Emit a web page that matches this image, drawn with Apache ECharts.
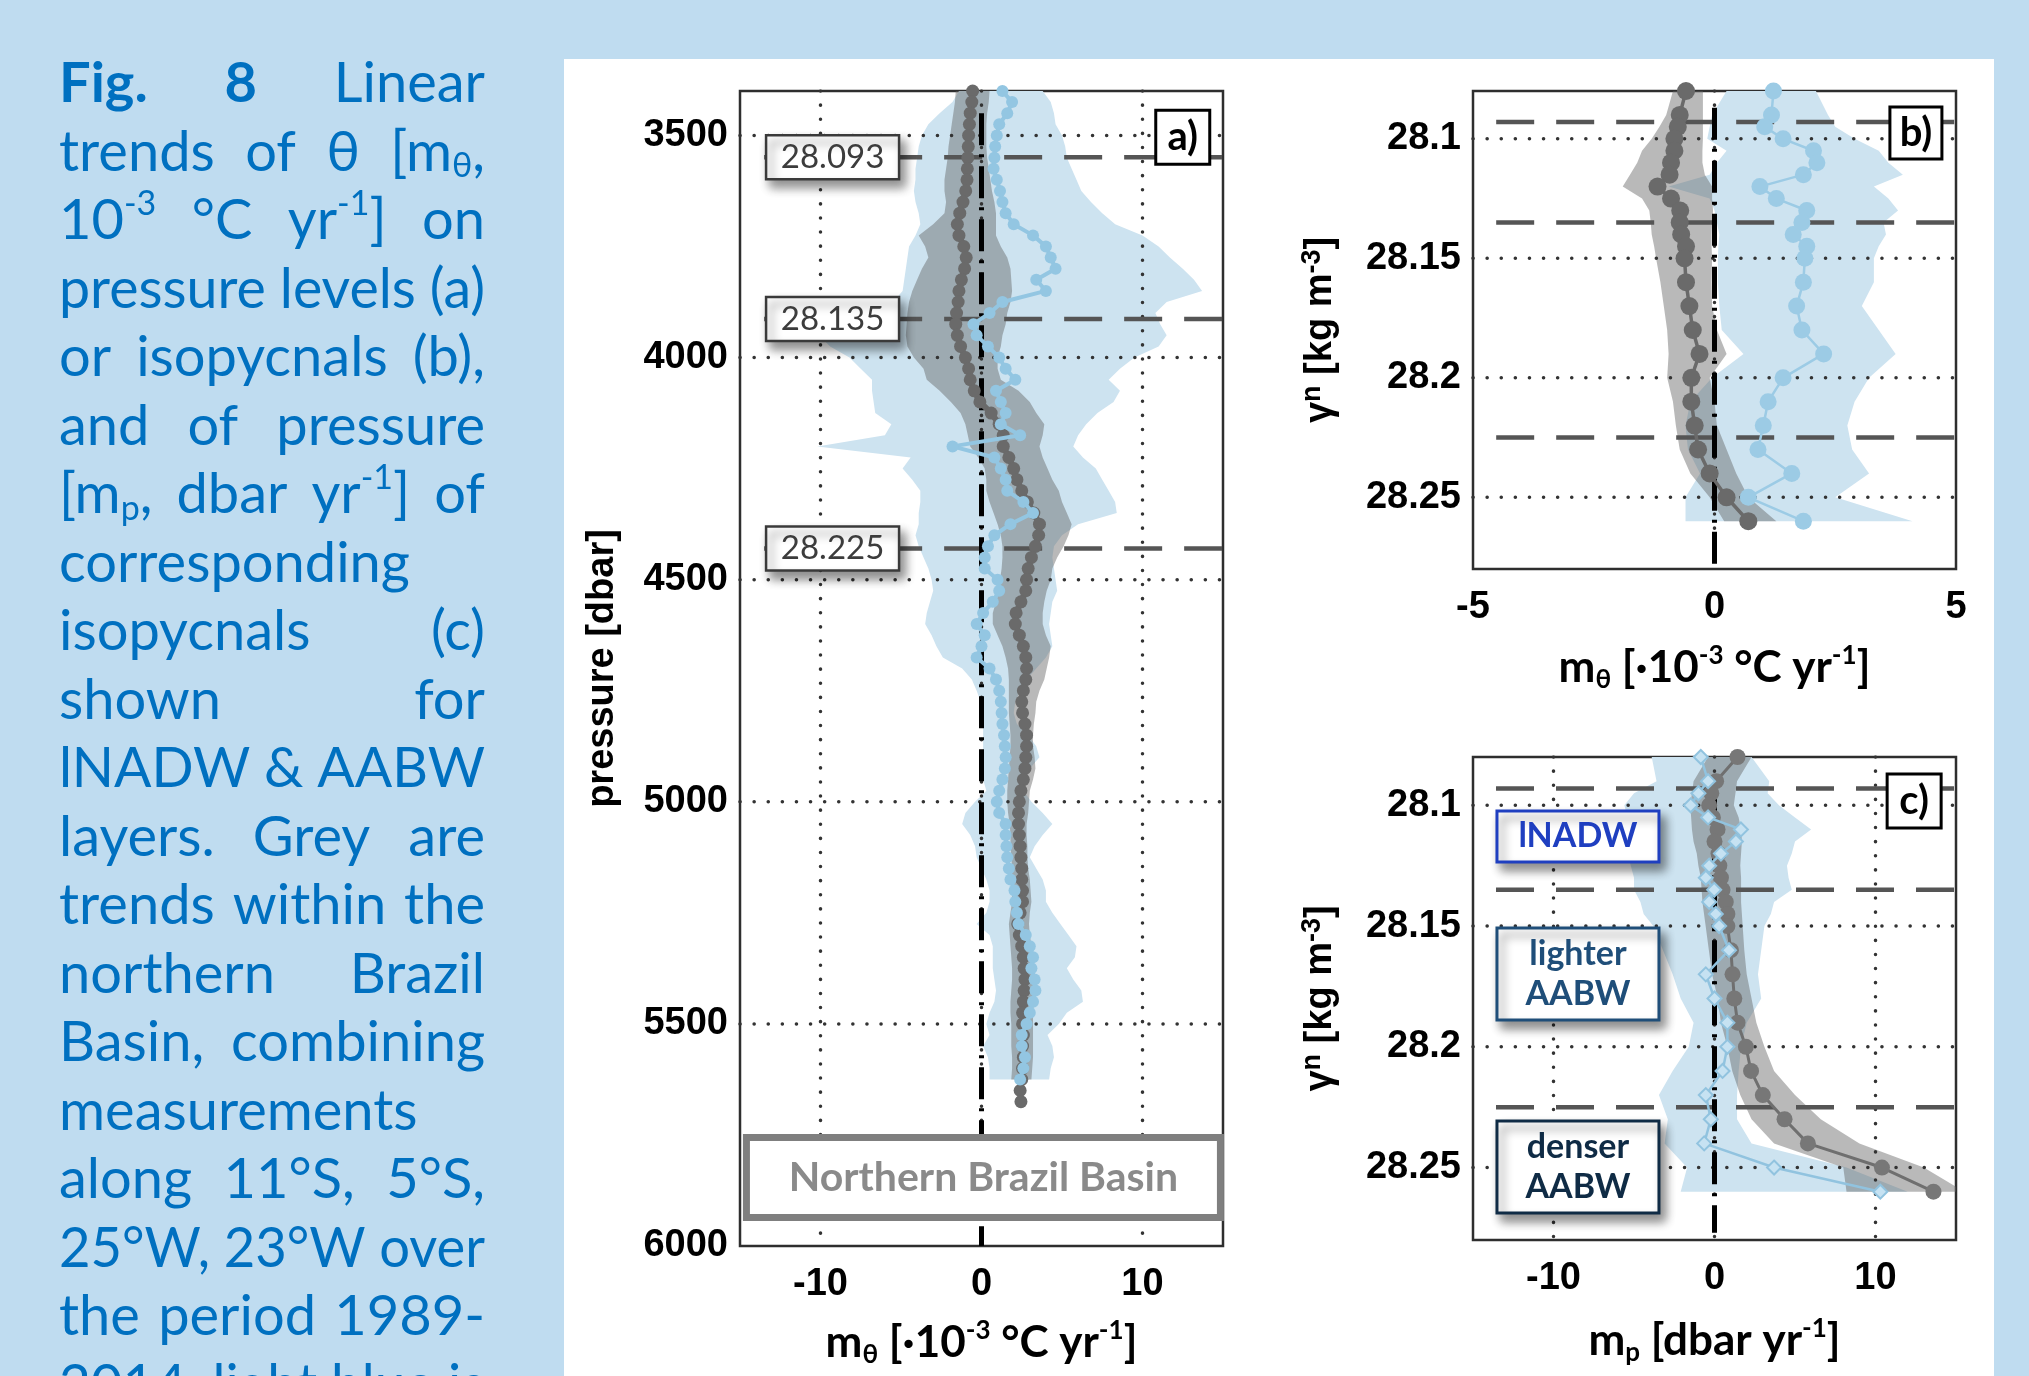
<!DOCTYPE html>
<html><head><meta charset="utf-8">
<script src="https://cdn.jsdelivr.net/npm/echarts@6.0.0/dist/echarts.min.js"></script>
<style>html,body{margin:0;padding:0;background:#bfdcf0;}#c{width:2029px;height:1376px;}</style>
</head><body><div id="c"></div>
<script>
// ---------------- DATA ----------------
// Panel a: pressure levels [dbar]
const pressA = [3400,3425,3450,3475,3500,3525,3550,3575,3600,3625,3650,3675,3700,3725,3750,3775,3800,3825,3850,3875,3900,3925,3950,3975,4000,4025,4050,4075,4100,4125,4150,4175,4200,4225,4250,4275,4300,4325,4350,4375,4400,4425,4450,4475,4500,4525,4550,4575,4600,4625,4650,4675,4700,4725,4750,4775,4800,4825,4850,4875,4900,4925,4950,4975,5000,5025,5050,5075,5100,5125,5150,5175,5200,5225,5250,5275,5300,5325,5350,5375,5400,5425,5450,5475,5500,5525,5550,5575,5600,5625,5650,5675];
const greyA = [-0.55,-0.6,-0.7,-0.75,-0.8,-0.82,-0.85,-0.88,-0.9,-0.98,
-1.15,-1.35,-1.5,-1.4,-1.1,-0.95,-1.05,-1.25,-1.4,-1.45,
-1.55,-1.6,-1.5,-1.3,-1.0,-0.8,-0.7,-0.45,-0.1,0.6,
1.1,1.35,1.35,1.7,2.0,2.2,2.5,2.85,3.25,3.6,
3.55,3.35,3.1,2.9,2.8,2.75,2.45,2.15,2.1,2.35,
2.6,2.75,2.8,2.75,2.6,2.5,2.55,2.7,2.8,2.8,
2.75,2.7,2.6,2.45,2.35,2.3,2.3,2.35,2.4,2.45,
2.5,2.5,2.55,2.55,2.4,2.25,2.35,2.5,2.6,2.65,
2.7,2.65,2.6,2.55,2.55,2.6,2.55,2.6,2.55,2.5,
2.4,2.45];
const greyLoA = [-1.6,-1.65,-1.75,-1.85,-1.95,-2.05,-2.1,-2.2,-2.3,-2.3,
-2.2,-2.3,-3.0,-3.9,-3.5,-3.3,-3.7,-4.0,-4.3,-4.5,
-4.6,-4.65,-4.7,-4.6,-4.2,-3.6,-3.4,-2.6,-1.9,-1.3,
-1.0,-0.85,-0.7,-0.2,0.2,0.3,0.3,0.5,0.75,1.0,
1.2,1.3,1.3,1.25,1.15,1.1,0.9,0.7,0.7,1.0,
1.3,1.5,1.65,1.7,1.7,1.7,1.7,1.75,1.8,1.8,
1.75,1.7,1.65,1.6,1.6,1.65,1.75,1.8,1.8,1.85,
1.9,1.9,1.9,1.9,1.8,1.7,1.75,1.8,1.85,1.9,
1.9,1.85,1.8,1.8,1.85,1.85,1.85,1.9,1.9,1.85];
const greyHiA = [0.5,0.45,0.35,0.3,0.3,0.3,0.35,0.45,0.55,0.65,
0.8,0.9,0.9,0.9,1.2,1.6,1.8,1.85,1.9,1.8,
1.6,1.5,1.3,1.2,1.0,1.0,1.2,2.3,3.0,3.4,
3.9,3.8,3.6,3.8,4.1,4.4,4.8,5.0,5.3,5.6,
5.4,5.1,4.7,4.4,4.3,4.05,3.9,3.8,3.8,4.0,
4.3,4.2,4.05,3.9,3.6,3.4,3.35,3.25,3.2,3.2,
3.3,3.35,3.2,3.0,2.95,2.9,2.8,2.8,2.85,2.85,
2.9,3.0,3.05,3.1,3.0,2.95,3.0,3.1,3.2,3.25,
3.3,3.3,3.25,3.2,3.2,3.2,3.2,3.2,3.15,3.1];
const blueA = [1.3,1.9,1.6,1.1,0.95,0.85,0.8,0.75,0.95,1.15,
1.3,1.5,2.0,3.2,4.0,4.3,4.6,3.4,4.0,1.3,
0.5,-0.5,-0.3,0.4,1.1,1.5,2.1,0.9,1.2,1.5,
1.2,2.4,-1.8,0.8,1.2,1.5,1.6,2.6,3.2,1.8,
0.8,0.4,0.2,0.2,1.0,1.1,0.7,0.1,-0.3,0.2,
0.0,-0.3,0.5,0.9,1.1,1.2,1.25,1.3,1.4,1.45,
1.5,1.45,1.3,1.1,0.95,1.1,1.5,1.5,1.55,1.6,
1.7,1.8,2.05,2.1,2.2,2.3,2.75,3.0,3.2,3.1,
3.3,3.35,3.2,3.0,2.8,2.5,2.5,2.7,2.6,2.4];
const blueLoA = [-1.4,-1.8,-2.6,-3.3,-3.7,-3.9,-4.0,-4.1,-4.1,-4.2,
-4.1,-3.9,-3.8,-4.1,-4.5,-4.6,-4.7,-4.8,-4.9,-5.5,
-7.5,-9.5,-10.1,-9.4,-8.2,-7.5,-6.8,-6.8,-6.7,-6.6,
-5.6,-6.0,-10.2,-4.4,-4.9,-4.3,-3.8,-3.8,-3.9,-3.9,
-4.1,-3.9,-3.6,-3.3,-3.1,-3.0,-3.2,-3.4,-3.5,-3.1,
-2.8,-2.4,-1.2,-0.6,-0.3,-0.05,0.0,0.1,0.1,0.1,
0.1,-0.05,0.1,0.3,-0.4,-1.0,-1.2,-0.7,-0.4,-0.3,
0.0,0.3,0.5,0.5,0.3,-0.3,0.5,0.7,0.7,0.7,
0.8,0.9,0.8,0.5,0.3,0.5,0.1,0.4,0.5,0.5];
const blueHiA = [3.8,4.3,4.5,4.6,5.0,5.2,5.3,5.6,5.9,6.2,
6.8,7.5,8.3,10.0,11.0,11.7,12.5,13.2,13.7,11.5,
10.8,11.1,11.5,11.0,9.5,8.6,7.9,8.6,8.2,7.2,
6.5,6.0,5.7,6.3,7.1,7.5,7.9,8.3,8.4,6.0,
5.0,4.5,4.4,4.5,4.6,4.7,4.4,4.3,4.2,4.3,
4.4,4.0,3.4,2.8,2.4,2.1,2.0,2.2,2.9,3.4,
3.6,3.0,2.7,2.6,3.1,3.8,4.4,3.8,3.3,3.0,
3.4,3.8,4.0,4.0,4.4,4.9,5.4,5.9,5.8,5.3,
5.7,6.2,6.3,5.3,4.8,4.1,4.4,4.5,4.3,4.2];

// Panels b, c: neutral density levels
const gammaLevels = [28.08,28.09,28.095,28.10,28.105,28.11,28.115,28.12,28.125,28.13,28.135,28.14,28.145,28.15,28.16,28.17,28.18,28.19,28.20,28.21,28.22,28.23,28.24,28.25,28.26];
const greyB   = [-0.59,-0.72,-0.76,-0.83,-0.83,-0.9,-0.93,-1.18,-0.9,-0.71,-0.72,-0.69,-0.59,-0.62,-0.59,-0.52,-0.45,-0.31,-0.48,-0.48,-0.41,-0.34,-0.1,0.25,0.7];
const greyLoB = [-0.86,-1.0,-1.14,-1.3,-1.5,-1.6,-1.75,-1.9,-1.5,-1.35,-1.32,-1.3,-1.25,-1.21,-1.12,-1.05,-0.98,-0.95,-0.98,-0.86,-0.8,-0.72,-0.5,-0.1,0.2];
const greyHiB = [-0.24,-0.24,-0.24,-0.24,-0.25,-0.25,-0.2,-0.05,-0.05,-0.03,-0.05,-0.06,-0.06,-0.05,-0.06,-0.05,0.05,0.25,-0.1,0.0,0.05,0.25,0.45,0.7,1.28];
const blueB   = [1.22,1.18,1.04,1.42,2.05,2.12,1.84,0.94,1.28,1.91,1.81,1.63,1.91,1.87,1.84,1.70,1.81,2.26,1.42,1.11,1.01,0.9,1.6,0.7,1.84];
const blueLoB = [0.25,-0.05,-0.1,-0.15,0.25,0.05,-0.1,-0.95,-0.1,0.0,0.05,0.1,0.08,0.07,0.07,0.1,0.15,0.6,-0.05,-0.5,-0.6,-0.55,-0.3,-0.6,-0.6];
const blueHiB = [2.1,2.35,2.5,2.9,3.4,3.6,3.9,3.3,3.6,3.8,3.5,3.55,3.4,3.3,3.3,3.05,3.4,3.75,3.2,2.9,2.75,2.85,3.2,2.5,4.1];
const greyC   = [1.43,0.1,-0.2,-0.33,-0.1,0.19,0.0,0.25,0.3,0.4,0.5,0.7,0.8,0.8,1.02,1.12,1.23,1.43,1.95,2.27,3.0,4.35,5.8,10.4,13.6];
const greyLoC = [-0.4,-1.3,-1.4,-1.5,-1.45,-1.4,-1.3,-1.1,-1.0,-0.85,-0.8,-0.75,-0.65,-0.55,-0.35,-0.15,0.2,0.4,0.8,1.1,1.6,2.3,3.7,8.0,8.2];
const greyHiC = [2.3,1.4,1.3,1.2,1.5,1.65,1.7,1.65,1.6,1.65,1.65,1.65,1.7,1.75,1.85,2.0,2.3,2.6,3.1,3.7,5.0,6.6,9.0,13.0,15.5];
const blueC   = [-0.85,-0.4,-1.0,-1.48,-0.4,1.64,1.33,0.4,-0.33,-0.54,-0.02,-0.33,0.08,0.29,0.9,-0.54,0.0,0.8,0.8,0.5,-0.54,-0.23,-0.64,3.7,10.3];
const blueLoC = [-3.9,-3.6,-5.0,-5.6,-5.4,-5.4,-5.4,-5.4,-5.2,-5.0,-5.0,-4.6,-4.4,-3.8,-3.2,-2.6,-2.1,-1.3,-1.6,-2.6,-3.45,-2.9,-3.1,-1.7,-2.1];
const blueHiC = [2.3,3.4,3.3,4.0,5.0,6.0,5.0,4.8,4.5,4.6,4.8,3.7,3.5,3.1,2.9,2.7,2.9,2.0,1.65,1.5,1.4,1.4,2.3,8.2,12.0];

// Isopycnal boundaries
const isoGamma  = [28.093, 28.135, 28.225];
const isoPressA = [3549, 3913, 4430];
const isoLabels = ['28.093', '28.135', '28.225'];

// Tick labels / grid positions
const xTicksA = [-10, 0, 10];
const yTicksA = [3500, 4000, 4500, 5000, 5500];
const xTicksB = [-5, 0, 5];
const yTicksBC = [28.1, 28.15, 28.2, 28.25];
const xTicksC = [-10, 0, 10];

// Axis extents
const A_X = [-15, 15], A_Y = [3400, 6000];
const B_X = [-5, 5],  BC_Y = [28.08, 28.28];
const C_X = [-15, 15];

// Caption text
const captionLines = [
 ['{*Fig.}','{*8}','Linear'],
 ['trends','of','θ','[m{_θ},'],
 ['10{^-3}','°C','yr{^-1}]','on'],
 ['pressure','levels','(a)'],
 ['or','isopycnals','(b),'],
 ['and','of','pressure'],
 ['[m{_p},','dbar','yr{^-1}]','of'],
 ['corresponding'],
 ['isopycnals','(c)'],
 ['shown','for'],
 ['lNADW','&','AABW'],
 ['layers.','Grey','are'],
 ['trends','within','the'],
 ['northern','Brazil'],
 ['Basin,','combining'],
 ['measurements'],
 ['along','11°S,','5°S,'],
 ['25°W,','23°W','over'],
 ['the','period','1989-'],
 ['2014,','light','blue','is']
];

// ---------------- STYLES ----------------
const BLUE_BAND = '#cde3f0';
const GREY_BAND = 'rgba(100,100,100,0.45)';
const DOT = {color:'#333333', width:3.5, type:[0.1, 14], cap:'round'};
const DASH = {color:'#555555', width:4.5, type:[38, 22]};
const DASHDOT = {color:'#000000', width:5, type:[32, 9, 3, 9]};
const LBL_FONT = '"Liberation Sans", Arial, sans-serif';
const CAP_FONT = 'Lato, "Open Sans", sans-serif';

function band(xi, yi, ys, lo, hi, color, z){
  return {type:'custom', xAxisIndex:xi, yAxisIndex:yi, z:z, silent:true, clip:true,
    data: lo.map((v,i)=>[v, ys[i]]), encode:{x:0,y:1},
    renderItem:function(params, api){
      if(params.dataIndex!==0) return null;
      const pts=[];
      for(let i=0;i<lo.length;i++) pts.push(api.coord([lo[i], ys[i]]));
      for(let i=hi.length-1;i>=0;i--) pts.push(api.coord([hi[i], ys[i]]));
      return {type:'polygon', shape:{points:pts}, style:{fill:color}};
    }};
}
function ref(xi, yi, pts, style, z){
  return {type:'line', xAxisIndex:xi, yAxisIndex:yi, z:z, silent:true, symbol:'none',
    data:pts, lineStyle:style, animation:false};
}
function lineS(xi, yi, vals, ys, o, z){
  return {type:'line', xAxisIndex:xi, yAxisIndex:yi, z:z, silent:true, clip:false,
    data: vals.map((v,i)=>[v, ys[i]]), symbol:o.symbol||'circle', symbolSize:o.size,
    lineStyle:{color:o.line, width:o.lw}, itemStyle:{color:o.fill, borderColor:o.border||o.fill, borderWidth:o.bw||0}, animation:false};
}
function boxes(xi, yi, items, z){
  return {type:'custom', xAxisIndex:xi, yAxisIndex:yi, z:z, silent:true,
    data: items.map(it=>[it.x, it.y]), encode:{x:0,y:1},
    renderItem:function(params, api){
      const it = items[params.dataIndex];
      const c = api.coord([api.value(0), api.value(1)]);
      const rect = {type:'rect', shape:{x:c[0]-it.w/2, y:c[1]-it.h/2, width:it.w, height:it.h},
        style:{fill:'#ffffff', stroke:it.border, lineWidth:it.bw}};
      if(it.shadow){ rect.style.shadowBlur=10; rect.style.shadowColor='rgba(0,0,0,0.45)'; rect.style.shadowOffsetX=5; rect.style.shadowOffsetY=7; }
      return {type:'group', children:[rect,
        {type:'text', style:{text:it.text, x:c[0], y:c[1]+(it.dy||0), align:'center', verticalAlign:'middle',
          fontSize:it.fs, fontWeight:it.fw, fontFamily:it.ff||CAP_FONT, fill:it.color, lineHeight:it.lh||it.fs*1.2}}]};
    }};
}

// ---------------- SERIES ----------------
const S = [];
const pBand = pressA.slice(0, blueLoA.length);
// Panel a
S.push(band(0,0,pBand,blueLoA,blueHiA,BLUE_BAND,1));
S.push(band(0,0,pBand,greyLoA,greyHiA,GREY_BAND,2));
xTicksA.forEach(v=>S.push(ref(0,0,[[v,A_Y[0]],[v,A_Y[1]]],DOT,3)));
yTicksA.forEach(v=>S.push(ref(0,0,[[A_X[0],v],[A_X[1],v]],DOT,3)));
isoPressA.forEach(p=>S.push(ref(0,0,[[-13.5,p],[A_X[1],p]],DASH,4)));
S.push(ref(0,0,[[0,3450],[0,A_Y[1]]],DASHDOT,4));
S.push(lineS(0,0,greyA,pressA,{size:13,line:'#6a6a6a',lw:6,fill:'#6a6a6a'},5));
S.push(lineS(0,0,blueA,pBand,{size:12,line:'#93c6e2',lw:4,fill:'#93c6e2'},6));
S.push(boxes(0,0,[
  {x:-9.25,y:isoPressA[0],w:133,h:44,text:isoLabels[0],fs:33,fw:'normal',color:'#3c3c3c',border:'#3a3a3a',bw:2.5,shadow:true},
  {x:-9.25,y:isoPressA[1],w:133,h:44,text:isoLabels[1],fs:33,fw:'normal',color:'#3c3c3c',border:'#3a3a3a',bw:2.5,shadow:true},
  {x:-9.25,y:isoPressA[2],w:133,h:44,text:isoLabels[2],fs:33,fw:'normal',color:'#3c3c3c',border:'#3a3a3a',bw:2.5,shadow:true},
  {x:0.12,y:5846,w:474,h:80,text:'Northern Brazil Basin',fs:41,fw:'bold',color:'#8a8a8a',border:'#7f7f7f',bw:7},
  {x:12.5,y:3504,w:54,h:54,text:'a)',fs:40,fw:'bold',color:'#000',border:'#000',bw:3}
],10));
// Panel b
S.push(band(1,1,gammaLevels,blueLoB,blueHiB,BLUE_BAND,1));
S.push(band(1,1,gammaLevels,greyLoB,greyHiB,GREY_BAND,2));
[0].forEach(v=>S.push(ref(1,1,[[v,BC_Y[0]],[v,BC_Y[1]]],DOT,3)));
yTicksBC.forEach(v=>S.push(ref(1,1,[[B_X[0],v],[B_X[1],v]],DOT,3)));
isoGamma.forEach(g=>S.push(ref(1,1,[[-4.52,g],[B_X[1],g]],DASH,4)));
S.push(ref(1,1,[[0,28.087],[0,BC_Y[1]]],DASHDOT,4));
S.push(lineS(1,1,greyB,gammaLevels,{size:18,line:'#6a6a6a',lw:3.5,fill:'#6a6a6a'},5));
S.push(lineS(1,1,blueB,gammaLevels,{size:17,line:'#9ccbe5',lw:2.5,fill:'#9ccbe5'},6));
S.push(boxes(1,1,[
  {x:4.17,y:28.0976,w:52,h:52,text:'b)',fs:40,fw:'bold',color:'#000',border:'#000',bw:3}
],10));
// Panel c
S.push(band(2,2,gammaLevels,blueLoC,blueHiC,BLUE_BAND,1));
S.push(band(2,2,gammaLevels,greyLoC,greyHiC,GREY_BAND,2));
xTicksC.forEach(v=>S.push(ref(2,2,[[v,BC_Y[0]],[v,BC_Y[1]]],DOT,3)));
yTicksBC.forEach(v=>S.push(ref(2,2,[[C_X[0],v],[C_X[1],v]],DOT,3)));
isoGamma.forEach(g=>S.push(ref(2,2,[[-13.57,g],[C_X[1],g]],DASH,4)));
S.push(ref(2,2,[[0,28.09],[0,28.277]],DASHDOT,4));
S.push(lineS(2,2,greyC,gammaLevels,{size:16,line:'#6f6f6f',lw:3,fill:'#777777'},5));
S.push(lineS(2,2,blueC,gammaLevels,{symbol:'diamond',size:14,line:'#91c3df',lw:2.5,fill:'#c6e2f2',border:'#91c3df',bw:2},6));
S.push(boxes(2,2,[
  {x:12.4,y:28.0982,w:54,h:54,text:'c)',fs:40,fw:'bold',color:'#000',border:'#000',bw:3},
  {x:-8.48,y:28.1129,w:162,h:51,text:'lNADW',fs:34,fw:'bold',color:'#1f3fc0',border:'#1f3fc0',bw:3,shadow:true},
  {x:-8.48,y:28.1699,w:162,h:92,text:'lighter\nAABW',fs:34,fw:'bold',lh:40,color:'#1f4e79',border:'#1f4e79',bw:3,shadow:true},
  {x:-8.48,y:28.2498,w:162,h:92,text:'denser\nAABW',fs:34,fw:'bold',lh:40,color:'#0f2b45',border:'#0f2b45',bw:3,shadow:true}
],10));

// ---------------- AXES ----------------
const richX = {
  t:{fontSize:44,fontWeight:'bold',fontFamily:CAP_FONT,color:'#000',lineHeight:50},
  s:{fontSize:26,fontWeight:'bold',fontFamily:CAP_FONT,color:'#000',lineHeight:24,verticalAlign:'bottom'},
  p:{fontSize:26,fontWeight:'bold',fontFamily:CAP_FONT,color:'#000',lineHeight:24,verticalAlign:'top'}
};
const richY = {
  t:{fontSize:38,fontWeight:'bold',fontFamily:LBL_FONT,color:'#000',lineHeight:44},
  p:{fontSize:27,fontWeight:'bold',fontFamily:LBL_FONT,color:'#000',lineHeight:24,verticalAlign:'top'}
};
const nameThetaX = '{t|m}{s|θ}{t| [·10}{p|-3}{t| °C yr}{p|-1}{t|]}';
const nameGammaY = '{t|γ}{p|n}{t| [kg m}{p|-3}{t|]}';
function xAx(gi, ext, fmt, name, gap){
  return {type:'value', gridIndex:gi, min:ext[0], max:ext[1], interval:5,
    axisLine:{show:false}, axisTick:{show:false}, splitLine:{show:false},
    axisLabel:{formatter:fmt, margin:20, fontSize:38, fontWeight:'bold', fontFamily:LBL_FONT, color:'#000'},
    name:name, nameLocation:'middle', nameGap:gap, nameTextStyle:{rich:richX}};
}
function yAx(gi, ext, iv, fmt, name, gap, rich, plainStyle){
  const o = {type:'value', gridIndex:gi, min:ext[0], max:ext[1], interval:iv, inverse:true,
    axisLine:{show:false}, axisTick:{show:false}, splitLine:{show:false},
    axisLabel:{formatter:fmt, margin:12, fontSize:38, fontWeight:'bold', fontFamily:LBL_FONT, color:'#000'},
    name:name, nameLocation:'middle', nameGap:gap, nameRotate:90};
  o.nameTextStyle = rich ? {rich:rich} : plainStyle;
  return o;
}
const fmt10 = v => (Math.round(v) % 10 === 0 ? String(Math.round(v)) : '');
const fmt5 = v => String(Math.round(v));
const fmtP = v => (Math.round(v) % 500 === 0 ? String(Math.round(v)) : '');
const fmtG = v => { const r = Math.round(v*1000); return (r % 50 === 0) ? String(r/1000) : ''; };

// ---------------- CAPTION ----------------
const mctx = document.createElement('canvas').getContext('2d');
const CAP_SIZE = 56, CAP_SMALL = 34;
function parseWord(w){ const segs=[]; const re=/\{([_^*])([^}]*)\}|([^{]+)/g; let m;
  while((m=re.exec(w))){ if(m[3]!==undefined) segs.push({t:m[3],k:'n'}); else segs.push({t:m[2],k:m[1]}); } return segs; }
function segFont(k){ const size=(k==='_'||k==='^')?CAP_SMALL:CAP_SIZE; const wt=(k==='*')?'bold':'normal';
  return {size:size, wt:wt, css:wt+' '+size+'px '+CAP_FONT}; }
function segW(s){ mctx.font = segFont(s.k).css; return mctx.measureText(s.t).width; }
const capEls = [];
const CX0 = 59, CX1 = 485, CW = CX1 - CX0;
captionLines.forEach((line, i) => {
  const yc = 84 + 68.5*i;
  const words = line.map(parseWord);
  const ww = words.map(ss => ss.reduce((a,s)=>a+segW(s),0));
  const sum = ww.reduce((a,b)=>a+b,0);
  const n = words.length, minGap = 0.25*CAP_SIZE;
  let s = 1, gap = 0;
  if(n>1){ gap = (CW-sum)/(n-1); if(gap<minGap){ s = CW/(sum+minGap*(n-1)); gap = minGap*s; } }
  else { s = Math.min(1, CW/sum); }
  let x = CX0;
  words.forEach(ss => {
    ss.forEach(sg => {
      const f = segFont(sg.k);
      const dy = sg.k==='^' ? -17 : (sg.k==='_' ? 14 : 0);
      capEls.push({type:'text', x:x, y:yc+dy, scaleX:s, z:5, silent:true,
        style:{text:sg.t, fontSize:f.size, fontWeight:f.wt, fontFamily:CAP_FONT, fill:'#0070c0', align:'left', verticalAlign:'middle'}});
      x += segW(sg)*s;
    });
    x += gap;
  });
});

// ---------------- CHART ----------------
const chart = echarts.init(document.getElementById('c'), null, {width:2029, height:1376});
chart.setOption({
  animation:false,
  backgroundColor:'#bfdcf0',
  graphic:{elements:[
    {type:'rect', z:-1, silent:true, shape:{x:564,y:59,width:1430,height:1317}, style:{fill:'#ffffff'}}
  ].concat(capEls)},
  grid:[
    {left:740, top:91, width:483, height:1155, show:true, borderColor:'#2e2e2e', borderWidth:2.5, backgroundColor:'#fff'},
    {left:1473, top:91, width:483, height:478, show:true, borderColor:'#2e2e2e', borderWidth:2.5, backgroundColor:'#fff'},
    {left:1473, top:757, width:483, height:483, show:true, borderColor:'#2e2e2e', borderWidth:2.5, backgroundColor:'#fff'}
  ],
  xAxis:[
    xAx(0, A_X, fmt10, nameThetaX, 72),
    xAx(1, B_X, fmt5, nameThetaX, 74),
    xAx(2, C_X, fmt10, '{t|m}{s|p}{t| [dbar yr}{p|-1}{t|]}', 76)
  ],
  yAxis:[
    yAx(0, A_Y, 100, fmtP, 'pressure [dbar]', 118, null, {fontSize:38, fontWeight:'bold', fontFamily:LBL_FONT, color:'#000'}),
    yAx(1, BC_Y, 0.01, fmtG, nameGammaY, 130, richY),
    yAx(2, BC_Y, 0.01, fmtG, nameGammaY, 130, richY)
  ],
  series:S
});
</script>
</body></html>
